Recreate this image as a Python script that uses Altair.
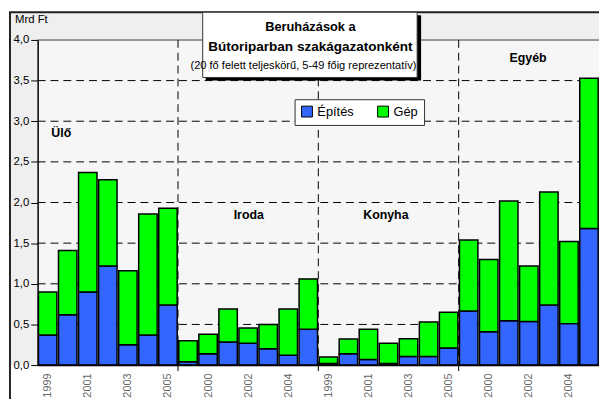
import altair as alt
import pandas as pd

# ---------------- data ----------------
groups = ["Ülő", "Iroda", "Konyha", "Egyéb"]
years = [1999, 2000, 2001, 2002, 2003, 2004, 2005]
series = ["Építés", "Gép"]
colors = ["#3366ff", "#00ff00"]

epites_ulo = [0.37, 0.62, 0.90, 1.22, 0.25, 0.37, 0.74]
gep_ulo = [0.53, 0.79, 1.47, 1.06, 0.91, 1.49, 1.19]
epites_iroda = [0.04, 0.14, 0.285, 0.27, 0.20, 0.12, 0.44]
gep_iroda = [0.26, 0.24, 0.405, 0.185, 0.30, 0.57, 0.62]
epites_konyha = [0.02, 0.14, 0.07, 0.02, 0.105, 0.105, 0.21]
gep_konyha = [0.08, 0.18, 0.37, 0.25, 0.22, 0.425, 0.44]
epites_egyeb = [0.665, 0.41, 0.545, 0.535, 0.74, 0.51, 1.68]
gep_egyeb = [0.875, 0.89, 1.475, 0.685, 1.39, 1.01, 1.85]

y_ticks = [0.0, 0.5, 1.0, 1.5, 2.0, 2.5, 3.0, 3.5, 4.0]
grid_vals = [0.5, 1.0, 1.5, 2.0, 2.5, 3.0, 3.5]

title_lines = ["Beruházások a", "Bútoriparban szakágazatonként",
               "(20 fő felett teljeskörű, 5-49 főig reprezentatív)"]
y_unit = "Mrd Ft"

# group label anchor (x in bar-slot units, y in data units)
group_label_x = [1.18, 10.53, 17.37, 24.46]
group_label_y = [2.86, 1.85, 1.85, 3.78]

# ---------------- table ----------------
ep = [epites_ulo, epites_iroda, epites_konyha, epites_egyeb]
gp = [gep_ulo, gep_iroda, gep_konyha, gep_egyeb]
rows = []
n_years = len(years)
for gi, g in enumerate(groups):
    for yi, yr in enumerate(years):
        idx = gi * n_years + yi
        rows.append(dict(idx=idx, group=g, year=yr, series=series[0], order=0, value=ep[gi][yi]))
        rows.append(dict(idx=idx, group=g, year=yr, series=series[1], order=1, value=gp[gi][yi]))
df = pd.DataFrame(rows)
n_slots = len(groups) * n_years
bounds = pd.DataFrame({"b": [n_years * k for k in range(1, len(groups))]})
label_vals = [i + 0.5 for i in range(0, n_slots, 2)]
grid_df = pd.DataFrame({"v": grid_vals})
glabels = pd.DataFrame({"label": groups, "x": group_label_x, "y": group_label_y})
one = pd.DataFrame({"a": [0]})

W, H = 568, 329
FONT = "Liberation Sans"

xscale = alt.Scale(domain=[0, n_slots], nice=False, zero=False)
yscale = alt.Scale(domain=[0, 4], nice=False)

# ---------------- decorative frame ----------------
frame = alt.Chart(one).mark_rect(fill="#efefef", stroke="#222222", strokeWidth=2).encode(
    x=alt.value(-28), x2=alt.value(W + 60), y=alt.value(-28), y2=alt.value(H + 80))
bottom_white = alt.Chart(one).mark_rect(fill="white").encode(
    x=alt.value(-27), x2=alt.value(W + 60), y=alt.value(H), y2=alt.value(H + 79))
plot_bg = alt.Chart(one).mark_rect(fill="#f6f6f6").encode(
    x=alt.value(0), x2=alt.value(W), y=alt.value(0), y2=alt.value(H))
top_line = alt.Chart(one).mark_rule(color="#999999", strokeWidth=2).encode(
    x=alt.value(0), x2=alt.value(W), y=alt.value(0))

bars = alt.Chart(df).transform_stack(
    stack="value", groupby=["idx"], as_=["y0", "y1"], sort=[alt.SortField("order")]
).transform_calculate(
    x0="datum.idx + 0.04", x1="datum.idx + 0.96"
).mark_rect(stroke="black", strokeWidth=1.5).encode(
    x=alt.X("x0:Q", scale=xscale, title=None, axis=alt.Axis(
        values=label_vals, title=None, ticks=False, grid=False,
        domainColor="black", domainWidth=1.5, labelAngle=270, labelFontSize=11,
        labelColor="#666666", labelPadding=8, labelFont=FONT, labelOverlap=False,
        labelFlush=False, zindex=1,
        labelExpr="toString(1999 + floor(datum.value) % 7)")),
    x2="x1:Q",
    y=alt.Y("y1:Q", scale=yscale, title=None, axis=alt.Axis(
        values=y_ticks, title=None, grid=False, domainColor="black", domainWidth=1.5,
        tickColor="black", tickSize=7, tickWidth=1, labelPadding=2, labelFontSize=11.5,
        labelColor="black", labelFont=FONT, zindex=1,
        labelExpr="replace(format(datum.value, '.1f'), '.', ',')")),
    y2="y0:Q",
    color=alt.Color("series:N", scale=alt.Scale(domain=series, range=colors),
                    legend=alt.Legend(orient="none", legendX=260, legendY=60,
                                      direction="horizontal", title=None,
                                      symbolType="square", symbolSize=121,
                                      symbolStrokeColor="black", symbolStrokeWidth=1,
                                      labelFontSize=13, labelFont=FONT, labelColor="black",
                                      padding=6, strokeColor="#333333", fillColor="white",
                                      columnPadding=22, labelOffset=4)),
)

grid = alt.Chart(grid_df).mark_rule(color="black", strokeWidth=1, strokeDash=[8, 5]).encode(
    y=alt.Y("v:Q", scale=yscale, title=None), x=alt.value(0), x2=alt.value(W))

seps = alt.Chart(bounds).mark_rule(color="black", strokeWidth=1, strokeDash=[8, 5]).encode(
    x=alt.X("b:Q", scale=xscale, title=None), y=alt.value(0), y2=alt.value(H))
sep_ticks = alt.Chart(bounds).mark_rule(color="black", strokeWidth=1).encode(
    x=alt.X("b:Q", scale=xscale, title=None), y=alt.value(H), y2=alt.value(H + 6))

glabel = alt.Chart(glabels).mark_text(fontWeight="bold", fontSize=12.5, font=FONT,
                                      color="black").encode(
    x=alt.X("x:Q", scale=xscale, title=None),
    y=alt.Y("y:Q", scale=yscale, title=None),
    text="label:N")

unit = alt.Chart(one).mark_text(text=y_unit, align="left", baseline="middle",
                                fontSize=11.5, font=FONT, color="black").encode(
    x=alt.value(-23), y=alt.value(-20))

tb_shadow = alt.Chart(one).mark_rect(fill="black").encode(
    x=alt.value(170), x2=alt.value(388), y=alt.value(-25), y2=alt.value(41))
tb_box = alt.Chart(one).mark_rect(fill="white", stroke="#333333", strokeWidth=1).encode(
    x=alt.value(167), x2=alt.value(384), y=alt.value(-28), y2=alt.value(38))
t1 = alt.Chart(one).mark_text(text=title_lines[0], fontWeight="bold", fontSize=13,
                              font=FONT, baseline="middle").encode(
    x=alt.value(276), y=alt.value(-13))
t2 = alt.Chart(one).mark_text(text=title_lines[1], fontWeight="bold", fontSize=13.7,
                              font=FONT, baseline="middle").encode(
    x=alt.value(276), y=alt.value(7))
t3 = alt.Chart(one).mark_text(text=title_lines[2], fontSize=11.2,
                              font=FONT, baseline="middle").encode(
    x=alt.value(269), y=alt.value(26))

chart = alt.layer(
    frame, bottom_white, plot_bg, grid, top_line, seps, sep_ticks, bars, glabel, unit,
    tb_shadow, tb_box, t1, t2, t3
).properties(
    width=W, height=H,
    autosize=alt.AutoSizeParams(type="none"),
    padding={"left": 30, "top": 30, "right": 0, "bottom": 32},
).configure_view(stroke=None).configure(font=FONT)

chart.save("out.html", embed_options={"renderer": "svg", "actions": False})
